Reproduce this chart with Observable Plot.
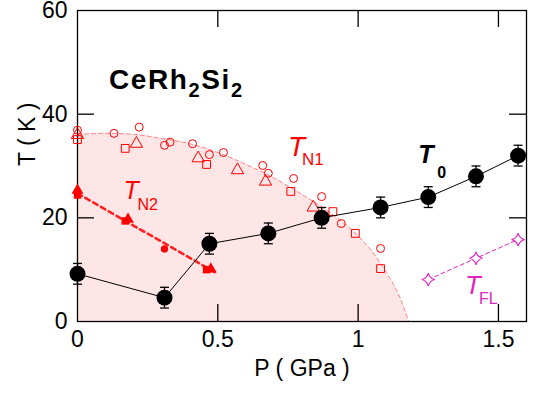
<!DOCTYPE html>
<html><head><meta charset="utf-8">
<script src="https://cdn.jsdelivr.net/npm/d3@7"></script>
<script src="https://cdn.jsdelivr.net/npm/@observablehq/plot@0.6"></script>
<style>body{margin:0;background:#fff}</style>
</head><body><div id="chart"></div>
<script>
// T0 (black, with error bars)
const t0P = [0, 0.31, 0.47, 0.68, 0.87, 1.08, 1.25, 1.42, 1.57];
const t0T = [9.2, 4.6, 15, 17, 20, 22, 24, 28, 32];
const t0Err = [2, 2, 2, 2, 2, 2, 2, 2, 2];
// TN1 open markers
const tn1CircleP = [0, 0.13, 0.22, 0.31, 0.33, 0.41, 0.47, 0.52, 0.66, 0.68, 0.77, 0.87, 0.94, 1.08];
const tn1CircleT = [36.9, 36.3, 37.5, 34, 34.6, 34.3, 32.2, 32.6, 30.1, 28.6, 27.6, 24.1, 18.9, 14.1];
const tn1SquareP = [0, 0.17, 0.46, 0.76, 0.91, 0.99, 1.08];
const tn1SquareT = [35.1, 33.4, 30.3, 25.1, 21.2, 17, 10.2];
const tn1TriP = [0, 0.21, 0.43, 0.57, 0.67, 0.84];
const tn1TriT = [36, 34.3, 31.5, 29.2, 27, 22];
// TN1 boundary (dashed guide curve)
const tn1CurveP = [0, 0.1, 0.2, 0.3, 0.4, 0.5, 0.6, 0.7, 0.8, 0.9, 1.0, 1.05, 1.1, 1.15, 1.18];
const tn1CurveT = [36.1, 36.3, 36.1, 35.3, 34.3, 32.6, 30.3, 27.7, 24.5, 21, 16.5, 13.5, 9.5, 4.5, 0];
// TN2 filled markers
const tn2SquareP = [0, 0.17, 0.46];
const tn2SquareT = [24.4, 19.4, 10];
const tn2TriP = [0, 0.18, 0.475];
const tn2TriT = [25.3, 19.7, 10.1];
const tn2CircleP = [0.31];
const tn2CircleT = [14];
const tn2LineP = [0, 0.49];
const tn2LineT = [24.7, 9.5];
// TFL
const tflP = [1.25, 1.42, 1.57];
const tflT = [8.1, 12.2, 15.8];
// ticks
const xTicks = [0, 0.5, 1, 1.5];
const yTicks = [0, 20, 40, 60];
const xInnerTicks = [0.5, 1, 1.5];
const yInnerTicks = [20, 40];
const xTitle = ["P ( GPa )"];
const yTitle = ["T ( K )"];

const zip = (P, T) => P.map((p, i) => ({P: p, T: T[i]}));
const t0 = t0P.map((p, i) => ({P: p, T: t0T[i], lo: t0T[i] - t0Err[i], hi: t0T[i] + t0Err[i]}));

const FONT = "Liberation Sans, Arial, Helvetica, sans-serif";
const RED = "#ff0000";
const MAG = "#e424c0";
const W = 537, H = 397, ML = 77, MR = 11, MT = 10, MB = 76;
const FW = W - ML - MR, FH = H - MT - MB, TICK = 17;

const star4 = {draw(ctx, size) {
  const r = Math.sqrt(size / Math.PI), c = 0.2 * r;
  ctx.moveTo(0, -r);
  ctx.quadraticCurveTo(c, -c, r, 0);
  ctx.quadraticCurveTo(c, c, 0, r);
  ctx.quadraticCurveTo(-c, c, -r, 0);
  ctx.quadraticCurveTo(-c, -c, 0, -r);
  ctx.closePath();
}};
const hcap = {draw(ctx, size) {
  const r = Math.sqrt(size / Math.PI);
  ctx.moveTo(-r, 0); ctx.lineTo(r, 0);
}};

const labelsN = [
  {P: 0.75, T: 32.0, t: "T", s: "N1", fill: RED, size: 28, ssize: 17, dx: 14, dy: 9},
  {P: 0.164, T: 23.7, t: "T", s: "N2", fill: RED, size: 25, ssize: 16, dx: 14, dy: 11},
  {P: 1.381, T: 5.4, t: "T", s: "FL", fill: MAG, size: 26, ssize: 16, dx: 14, dy: 10}
];
const labelsB = [
  {P: 1.214, T: 30.5, t: "T", s: "0", fill: "black", size: 25, ssize: 16, dx: 19, dy: 15}
];

function subText(data, weight) {
  return Plot.text(data, {x: "P", y: "T", text: "s", fill: "fill", fontSize: d => d.ssize, fontWeight: weight, textAnchor: "start", lineAnchor: "bottom",
    render(index, scales, values, dims, ctx, next) {
      const g = next(index, scales, values, dims, ctx);
      d3.select(g).selectAll("text").each(function(_, j) {
        const d = data[index[j]];
        const el = d3.select(this);
        const tr = el.attr("transform") || "";
        el.attr("transform", tr + ` translate(${d.dx},${d.dy})`);
      });
      return g;
    }});
}

const chart = Plot.plot({
  width: W, height: H,
  marginLeft: ML, marginRight: MR, marginTop: MT, marginBottom: MB,
  style: {fontFamily: FONT, fontSize: "23px", color: "black", background: "white"},
  x: {domain: [0, 1.6]},
  y: {domain: [0, 60]},
  marks: [
    Plot.areaY(zip(tn1CurveP, tn1CurveT), {x: "P", y: "T", fill: "#ffe6e6", curve: "monotone-x"}),
    Plot.line(zip(tn1CurveP, tn1CurveT), {x: "P", y: "T", stroke: "#ff8080", strokeWidth: 1, strokeDasharray: "4,3", curve: "monotone-x"}),
    Plot.frame({stroke: "black", strokeWidth: 1.3}),
    // inward ticks on all four sides
    Plot.tickX(xInnerTicks, {x: d => d, insetTop: FH - TICK, stroke: "black", strokeWidth: 1.3}),
    Plot.tickX(xInnerTicks, {x: d => d, insetBottom: FH - TICK, stroke: "black", strokeWidth: 1.3}),
    Plot.tickY(yInnerTicks, {y: d => d, insetRight: FW - TICK, stroke: "black", strokeWidth: 1.3}),
    Plot.tickY(yInnerTicks, {y: d => d, insetLeft: FW - TICK, stroke: "black", strokeWidth: 1.3}),
    Plot.axisX({anchor: "bottom", ticks: xTicks, tickSize: 0, tickPadding: 9, tickFormat: d => String(d), label: null}),
    Plot.axisY({anchor: "left", ticks: yTicks, tickSize: 0, tickPadding: 10, tickFormat: d => String(d), label: null}),
    Plot.text(xTitle, {frameAnchor: "bottom", dy: 47, text: d => d, fontSize: 23, lineAnchor: "middle"}),
    Plot.text(yTitle, {frameAnchor: "left", dx: -50, rotate: -90, text: d => d, fontSize: 23, lineAnchor: "middle"}),
    // TN1 open markers
    Plot.dot(zip(tn1CircleP, tn1CircleT), {x: "P", y: "T", r: 4, stroke: RED, strokeWidth: 1, fill: "none"}),
    Plot.dot(zip(tn1SquareP, tn1SquareT), {x: "P", y: "T", r: 4.4, symbol: "square", stroke: RED, strokeWidth: 1, fill: "none"}),
    Plot.dot(zip(tn1TriP, tn1TriT), {x: "P", y: "T", r: 4.6, symbol: "triangle", stroke: RED, strokeWidth: 1, fill: "none"}),
    // TN2
    Plot.line(zip(tn2LineP, tn2LineT), {x: "P", y: "T", stroke: "#ff2020", strokeWidth: 2.6, strokeDasharray: "5,4"}),
    Plot.dot(zip(tn2SquareP, tn2SquareT), {x: "P", y: "T", r: 4.2, symbol: "square", fill: RED}),
    Plot.dot(zip(tn2TriP, tn2TriT), {x: "P", y: "T", r: 4.4, symbol: "triangle", fill: RED}),
    Plot.dot(zip(tn2CircleP, tn2CircleT), {x: "P", y: "T", r: 3.6, fill: RED}),
    // TFL
    Plot.line(zip(tflP, tflT), {x: "P", y: "T", stroke: MAG, strokeWidth: 1, strokeDasharray: "4,3"}),
    Plot.dot(zip(tflP, tflT), {x: "P", y: "T", r: 6.5, symbol: star4, stroke: MAG, strokeWidth: 1.1, fill: "white"}),
    // T0
    Plot.line(t0, {x: "P", y: "T", stroke: "black", strokeWidth: 1}),
    Plot.ruleX(t0, {x: "P", y1: "lo", y2: "hi", stroke: "black", strokeWidth: 1.3}),
    Plot.dot(t0, {x: "P", y: "lo", r: 4.5, symbol: hcap, stroke: "black", strokeWidth: 1.3}),
    Plot.dot(t0, {x: "P", y: "hi", r: 4.5, symbol: hcap, stroke: "black", strokeWidth: 1.3}),
    Plot.dot(t0, {x: "P", y: "T", r: 8, fill: "black"}),
    // labels
    Plot.text(labelsN, {x: "P", y: "T", text: "t", fill: "fill", fontSize: d => d.size, fontStyle: "italic", textAnchor: "start", lineAnchor: "bottom"}),
    Plot.text(labelsB, {x: "P", y: "T", text: "t", fill: "fill", fontSize: d => d.size, fontStyle: "italic", fontWeight: "bold", textAnchor: "start", lineAnchor: "bottom"}),
    subText(labelsN, "normal"),
    subText(labelsB, "bold")
  ]
});
document.getElementById("chart").appendChild(chart);

// compound formula label CeRh2Si2 (subscripts as tspans)
const svg = d3.select(chart);
const xs = d3.scaleLinear().domain([0, 1.6]).range([ML, W - MR]);
const ys = d3.scaleLinear().domain([0, 60]).range([H - MB, MT]);
const formula = [["CeRh", false], ["2", true], ["Si", false], ["2", true]];
const ft = svg.append("text").attr("x", xs(0.114)).attr("y", ys(44.7)).attr("text-anchor", "start")
  .attr("font-family", FONT).attr("font-weight", "bold").attr("font-size", 28)
  .attr("letter-spacing", 1.6).attr("fill", "black");
formula.forEach(([s, sub], i) => {
  const ts = ft.append("tspan").text(s);
  if (sub) ts.attr("font-size", 20).attr("dy", 8);
  else if (i > 0) ts.attr("dy", -8);
});
</script>
</body></html>
